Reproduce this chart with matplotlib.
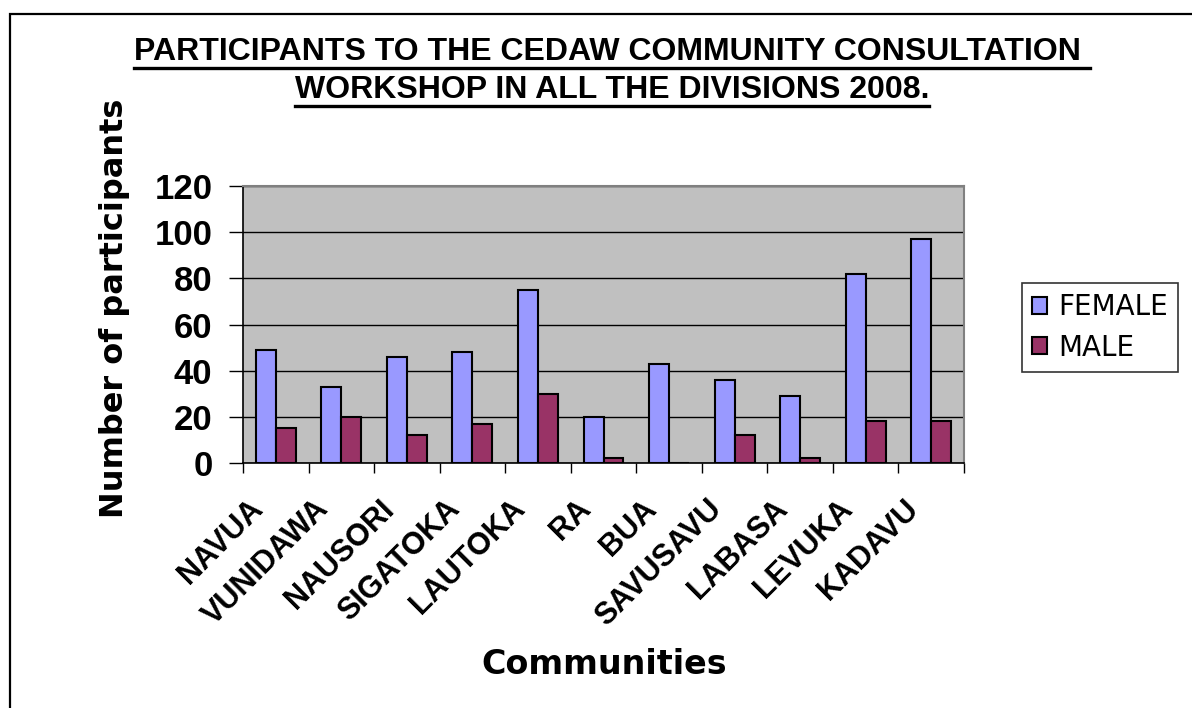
import matplotlib
matplotlib.use("Agg")
import matplotlib.pyplot as plt
import numpy as np
from matplotlib.patches import Rectangle
from matplotlib.lines import Line2D
from matplotlib.transforms import ScaledTranslation

communities = ["NAVUA", "VUNIDAWA", "NAUSORI", "SIGATOKA", "LAUTOKA", "RA",
               "BUA", "SAVUSAVU", "LABASA", "LEVUKA", "KADAVU"]
female = [49, 33, 46, 48, 75, 20, 43, 36, 29, 82, 97]
male = [15, 20, 12, 17, 30, 2, 0, 12, 2, 18, 18]
yticks = [0, 20, 40, 60, 80, 100, 120]

W, H = 1192, 708
fig = plt.figure(figsize=(W / 100, H / 100), dpi=100)
fig.patch.set_facecolor("white")

ax = fig.add_axes([243 / W, 1 - 463 / H, (964 - 243) / W, (463 - 186) / H])
ax.set_facecolor("#C0C0C0")

x = np.arange(len(communities))
bw = 0.305
ax.bar(x - bw / 2, female, bw, color="#9999FF", edgecolor="black", linewidth=1.5,
       label="FEMALE", zorder=3)
ax.bar(x + bw / 2, male, bw, color="#993366", edgecolor="black", linewidth=1.5,
       label="MALE", zorder=3)

ax.set_xlim(-0.5, len(communities) - 0.5)
ax.set_ylim(0, 120)
ax.set_yticks(yticks)
ax.set_yticklabels([str(v) for v in yticks], fontsize=25, fontweight="bold",
                   family="Liberation Sans")
ax.yaxis.grid(True, color="black", linewidth=1.0, zorder=1)
ax.set_axisbelow(True)

# category boundaries as major ticks, labels on minor ticks at centers
ax.set_xticks(np.arange(len(communities) + 1) - 0.5)
ax.set_xticklabels([])
ax.set_xticks(x, minor=True)
ax.set_xticklabels(communities, minor=True, rotation=45, ha="right", va="top",
                   rotation_mode="anchor", fontsize=22, fontweight="bold",
                   family="Liberation Sans")
ax.tick_params(axis="x", which="major", direction="out", length=7, width=1, color="black")
ax.tick_params(axis="x", which="minor", length=0, pad=0)
ax.tick_params(axis="y", direction="out", length=10, width=1, pad=12, color="black")
for lab in ax.get_xticklabels(minor=True):
    lab.set_transform(lab.get_transform() + ScaledTranslation(-0.28, -0.31, fig.dpi_scale_trans))

for s in ["top", "right"]:
    ax.spines[s].set_color("#808080")
    ax.spines[s].set_linewidth(1.5)
for s in ["left", "bottom"]:
    ax.spines[s].set_color("black")
    ax.spines[s].set_linewidth(1.2)

# axis titles
fig.text(115 / W, 1 - 308 / H, "Number of participants", rotation=90, ha="center",
         va="center", fontsize=23, fontweight="black", family="DejaVu Sans")
fig.text(604 / W, 1 - 665 / H, "Communities", ha="center", va="center",
         fontsize=24, fontweight="black", family="DejaVu Sans")

# title
t1 = fig.text(612 / W, 1 - 52 / H, "PARTICIPANTS TO THE CEDAW COMMUNITY CONSULTATION ",
              ha="center", va="center", fontsize=23, fontweight="bold",
              family="Liberation Sans")
t2 = fig.text(612 / W, 1 - 90 / H, "WORKSHOP IN ALL THE DIVISIONS 2008.",
              ha="center", va="center", fontsize=23, fontweight="bold",
              family="Liberation Sans")

# legend
leg = fig.legend(loc="upper left", bbox_to_anchor=(1022 / W, 1 - 283 / H),
                 fontsize=20, frameon=True, fancybox=False, edgecolor="black",
                 handlelength=0.55, handleheight=0.55, handletextpad=0.4,
                 labelspacing=0.45, borderpad=0.36, borderaxespad=0)
leg.get_frame().set_linewidth(1.2)

# outer frame
fig.add_artist(Rectangle((9.5 / W, -0.1), 2, 1.1 - 14 / H, transform=fig.transFigure,
                         fill=False, edgecolor="black", linewidth=1.6))

# underline titles
fig.canvas.draw()
r = fig.canvas.get_renderer()
for t in (t1, t2):
    bb = t.get_window_extent(r)
    yb = bb.y0 - 1
    fig.add_artist(Line2D([bb.x0 / W, bb.x1 / W], [yb / H, yb / H],
                          transform=fig.transFigure, color="black", linewidth=2.4))

fig.savefig("out.png", dpi=100)
